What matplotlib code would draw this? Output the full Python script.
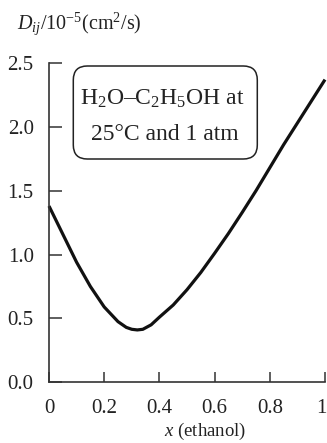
import matplotlib
matplotlib.use("Agg")
import matplotlib.pyplot as plt
from matplotlib.patches import FancyBboxPatch
from matplotlib.transforms import ScaledTranslation

plt.rcParams['font.family'] = ['Liberation Serif', 'DejaVu Serif']
plt.rcParams['mathtext.fontset'] = 'custom'
plt.rcParams['mathtext.rm'] = 'Liberation Serif'
plt.rcParams['mathtext.it'] = 'Liberation Serif:italic'

# data
x_ethanol = [0.00, 0.05, 0.10, 0.15, 0.20, 0.25, 0.28, 0.30, 0.32, 0.34, 0.37,
             0.40, 0.45, 0.50, 0.55, 0.60, 0.65, 0.70, 0.75, 0.80, 0.85,
             0.90, 0.95, 1.00]
d_coef = [1.38, 1.16, 0.94, 0.75, 0.59, 0.475, 0.43, 0.415, 0.41, 0.415, 0.45,
          0.51, 0.605, 0.725, 0.86, 1.01, 1.165, 1.33, 1.50, 1.68, 1.86,
          2.03, 2.20, 2.37]
x_ticks = [0, 0.2, 0.4, 0.6, 0.8, 1.0]
x_tick_labels = ['0', '0.2', '0.4', '0.6', '0.8', '1']
y_ticks = [0.0, 0.5, 1.0, 1.5, 2.0, 2.5]
y_tick_labels = ['0.0', '0.5', '1.0', '1.5', '2.0', '2.5']

W, H = 327, 443
fig = plt.figure(figsize=(W / 100, H / 100), dpi=100)
ax = fig.add_axes([49 / W, 1 - 382.3 / H, 276 / W, (382.3 - 63) / H])

ax.plot(x_ethanol, d_coef, color='#111111', lw=2.3, solid_capstyle='butt',
        solid_joinstyle='round', clip_on=False)

ax.set_xlim(0, 1)
ax.set_ylim(0, 2.5)
ax.set_xticks(x_ticks)
ax.set_xticklabels(x_tick_labels)
ax.set_yticks(y_ticks)
ax.set_yticklabels(y_tick_labels)
for s in ['top', 'right']:
    ax.spines[s].set_visible(False)
for s in ['left', 'bottom']:
    ax.spines[s].set_linewidth(1.2)
    ax.spines[s].set_color('#333333')
ax.tick_params(axis='x', direction='in', length=7, width=1.1, pad=12,
               labelsize=15, colors='#333333', labelcolor='#222222')
ax.tick_params(axis='y', direction='in', length=9, width=1.1, pad=11,
               labelsize=15, colors='#333333', labelcolor='#222222')
last = ax.get_xticklabels()[-1]
last.set_transform(last.get_transform() +
                   ScaledTranslation(-0.035, 0, fig.dpi_scale_trans))

fig.text(205 / W, 1.5 / H, r'$x$ (ethanol)', ha='center', va='bottom',
         fontsize=13.5, color='#222222')
fig.text(17 / W, 1 - 24 / H, r'$D_{ij}$/10$^{-5}$(cm$^2$/s)', ha='left',
         va='center', fontsize=14.5, color='#222222')

box = FancyBboxPatch((0.733, (H - 159) / 100), 1.84, 0.93,
                     boxstyle='round,pad=0,rounding_size=0.14',
                     transform=fig.dpi_scale_trans, fill=False,
                     ec='#222222', lw=1.1)
fig.add_artist(box)
fig.text(162 / W, 1 - 105 / H, r'H$_2$O–C$_2$H$_5$OH at', ha='center',
         va='baseline', fontsize=17, color='#222222')
fig.text(165 / W, 1 - 140 / H, '25°C and 1 atm', ha='center',
         va='baseline', fontsize=17, color='#222222')

fig.savefig('out.png', dpi=100)
